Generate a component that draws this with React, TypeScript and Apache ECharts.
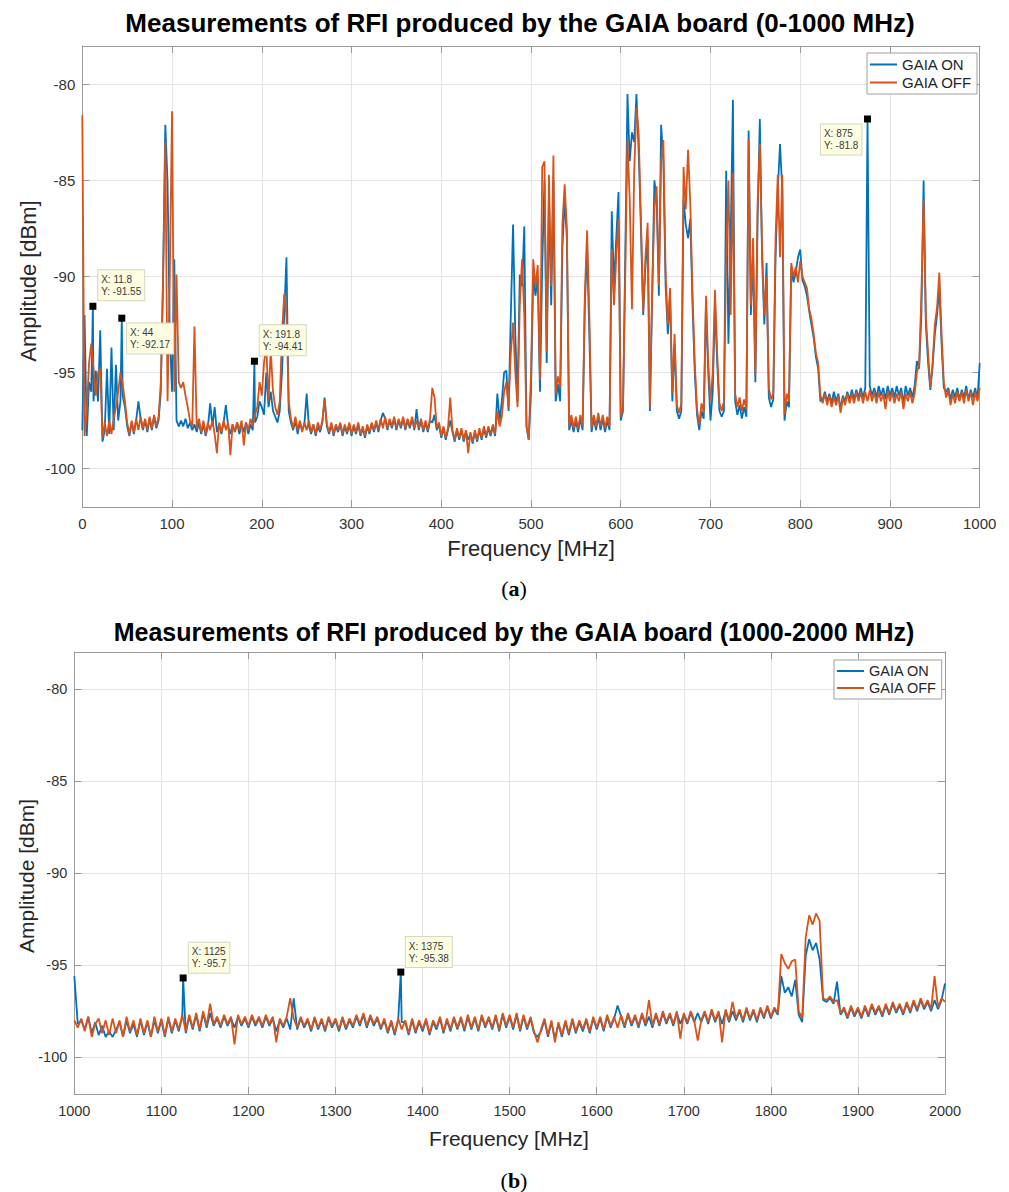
import React, { useEffect, useRef } from "react";
import * as echarts from "echarts";

// ---------- Panel (a): 0-1000 MHz, 2.5 MHz grid ----------
const freqStartA = 0;
const freqStepA = 2.5;

const gaiaOnA = [
  -98.0, -92.0, -98.3, -95.5, -96.0, -96.5, -94.9, -96.5, -92.8, -98.6,
  -98.0, -94.8, -98.2, -93.7, -98.0, -94.6, -97.5, -96.5, -96.2, -96.8,
  -97.8, -98.3, -97.6, -98.2, -97.5, -96.5, -97.4, -98.0, -97.5, -98.1,
  -97.4, -98.0, -97.3, -97.9, -97.5, -96.0, -90.0, -82.1, -85.1, -93.0,
  -96.0, -89.1, -97.5, -97.8, -97.5, -97.8, -97.4, -97.9, -97.6, -98.0,
  -97.7, -98.1, -97.6, -98.2, -97.7, -98.3, -97.8, -96.6, -97.8, -96.8,
  -98.1, -97.7, -98.2, -97.6, -96.7, -97.8, -98.2, -97.7, -98.1, -97.6,
  -98.2, -97.7, -98.1, -97.6, -98.2, -97.7, -98.0, -97.6, -97.3, -96.5,
  -96.8, -97.2, -95.0, -96.8, -96.0, -97.0, -97.3, -97.6, -97.0, -95.0,
  -92.0, -89.0, -97.0, -97.6, -98.0, -97.5, -98.2, -97.6, -98.0, -97.7,
  -96.1, -97.8, -98.2, -97.7, -98.3, -97.8, -98.1, -97.6, -96.3, -97.8,
  -98.2, -97.7, -98.3, -97.8, -98.1, -97.7, -98.3, -97.8, -98.2, -97.7,
  -98.3, -97.8, -98.2, -97.7, -98.3, -97.9, -98.4, -97.8, -98.2, -97.7,
  -98.1, -97.6, -98.1, -97.5, -97.1, -97.4, -98.0, -97.5, -97.9, -97.4,
  -98.0, -97.5, -97.9, -97.4, -98.0, -97.5, -97.9, -97.4, -98.0, -96.9,
  -98.0, -97.5, -98.1, -97.6, -98.1, -97.5, -97.6, -97.2, -98.0, -97.7,
  -98.4, -97.9, -98.5, -98.0, -97.5, -98.1, -98.6, -98.0, -98.5, -98.0,
  -98.6, -98.1, -98.5, -98.2, -98.7, -98.1, -98.6, -98.0, -98.5, -97.9,
  -98.4, -97.9, -98.3, -97.8, -98.3, -96.1, -97.5, -96.5, -95.0, -94.9,
  -97.0, -92.0, -87.3, -93.0, -96.5, -89.9, -90.5, -87.4, -97.8, -98.5,
  -96.0, -90.0, -91.0, -90.0, -96.0, -89.5, -85.0, -94.5, -86.0, -91.5,
  -85.0, -96.5, -95.6, -96.5, -88.5, -86.0, -88.0, -98.0, -97.5, -98.1,
  -97.5, -98.1, -97.4, -98.0, -91.5, -88.5, -93.0, -98.1, -97.4, -98.0,
  -97.3, -98.0, -97.4, -98.1, -97.5, -98.0, -86.6, -90.5, -88.0, -85.6,
  -97.5, -97.0, -89.0, -80.5, -84.0, -82.5, -83.0, -80.5, -83.5, -87.5,
  -92.0, -89.5, -88.0, -97.0, -91.0, -85.0, -86.0, -91.0, -82.1, -84.0,
  -90.5, -93.0, -91.0, -96.5, -93.5, -97.0, -97.4, -97.0, -86.0, -87.3,
  -88.0, -87.0, -91.5, -95.0, -97.2, -98.0, -97.0, -97.4, -91.5, -95.0,
  -97.5, -96.0, -91.5, -94.5, -97.0, -97.3, -97.0, -84.5, -93.5, -88.0,
  -80.8, -96.5, -97.2, -96.7, -97.4, -96.8, -97.3, -82.4, -92.0, -89.0,
  -95.5, -87.0, -81.8, -89.0, -92.5, -89.3, -96.3, -96.8, -96.4, -89.0,
  -85.5, -83.1, -85.5, -97.5, -96.5, -96.8, -89.5, -90.3, -89.8, -89.0,
  -88.6, -90.2, -90.5, -91.0, -91.8, -92.5, -93.2, -94.2, -94.8, -96.5,
  -96.4, -96.0, -96.5, -96.1, -96.6, -96.0, -96.5, -96.1, -96.9, -96.2,
  -96.5, -96.0, -96.4, -95.9, -96.4, -95.9, -96.3, -95.8, -96.3, -95.8,
  -96.0, -95.7, -96.2, -95.8, -96.3, -95.7, -96.2, -95.8, -96.4, -95.7,
  -96.2, -95.8, -96.3, -95.7, -96.2, -95.8, -96.6, -95.7, -96.2, -95.8,
  -96.3, -95.7, -94.4, -94.8, -92.0, -85.0, -92.5, -94.5, -95.9, -94.7,
  -93.0, -92.0, -90.5, -93.5, -95.8, -96.0, -95.8, -96.4, -95.9, -96.3,
  -95.8, -96.4, -95.9, -96.3, -95.7, -96.4, -95.9, -96.3, -95.8, -96.4,
  -94.5,
];

const gaiaOffA = [
  -81.6, -98.3, -97.0, -94.5, -93.5, -94.8, -96.2, -95.0, -94.8, -98.4,
  -97.6, -98.3, -97.5, -98.2, -97.4, -96.8, -96.0, -95.0, -95.6, -96.5,
  -97.6, -98.2, -97.5, -98.1, -97.4, -98.0, -97.3, -97.9, -97.4, -98.0,
  -97.3, -97.9, -97.2, -97.8, -97.3, -95.5, -90.3, -83.0, -96.5, -90.0,
  -81.4, -96.0, -89.9, -95.5, -95.8, -95.5, -96.2, -96.8, -97.5, -97.8,
  -92.6, -97.9, -97.4, -98.1, -97.5, -98.2, -97.6, -98.0, -97.5, -98.2,
  -99.2, -97.6, -98.1, -97.5, -98.0, -97.6, -99.3, -97.7, -98.1, -97.6,
  -98.0, -97.5, -98.8, -97.6, -98.0, -97.4, -97.8, -97.2, -96.8, -95.5,
  -96.2, -94.5, -93.6, -96.5, -93.8, -96.0, -96.8, -97.2, -96.5, -93.0,
  -90.9, -92.0, -96.5, -97.4, -97.9, -97.3, -98.0, -97.5, -98.1, -97.6,
  -98.0, -97.5, -98.1, -97.7, -98.2, -97.6, -98.0, -97.5, -96.4, -97.7,
  -98.1, -97.6, -98.2, -97.7, -98.0, -97.6, -98.2, -97.7, -98.1, -97.6,
  -98.2, -97.7, -98.1, -97.6, -98.2, -97.8, -98.3, -97.7, -98.1, -97.6,
  -98.0, -97.5, -98.0, -97.4, -97.9, -97.3, -97.9, -97.4, -97.8, -97.3,
  -97.9, -97.4, -97.8, -97.3, -97.9, -97.4, -97.8, -97.3, -97.9, -97.5,
  -97.9, -97.4, -98.0, -97.5, -98.0, -97.4, -95.8, -96.3, -97.9, -97.6,
  -98.3, -97.8, -98.4, -97.9, -96.3, -98.0, -98.5, -97.9, -98.4, -97.9,
  -98.5, -98.0, -99.2, -98.1, -98.6, -98.0, -98.5, -97.9, -98.4, -97.8,
  -98.3, -97.8, -98.2, -97.7, -98.2, -97.0, -97.8, -97.3, -96.0, -95.5,
  -96.8, -94.0, -92.4, -95.0, -96.8, -91.5, -89.1, -92.0, -97.8, -98.5,
  -95.0, -89.1, -90.5, -89.4, -95.4, -84.3, -84.0, -93.9, -84.7, -90.5,
  -83.7, -96.1, -95.2, -95.8, -87.3, -85.2, -87.5, -97.8, -97.2, -97.9,
  -97.3, -97.9, -97.2, -97.8, -90.9, -87.6, -92.0, -97.9, -97.2, -97.8,
  -97.1, -97.8, -97.2, -97.9, -97.3, -97.8, -88.6, -91.5, -89.0, -87.0,
  -97.3, -96.8, -90.0, -82.9, -86.0, -91.7, -84.5, -81.2, -82.6, -87.0,
  -91.8, -89.0, -87.2, -96.8, -90.9, -86.5, -85.3, -90.5, -84.0, -82.9,
  -89.8, -92.5, -90.6, -96.1, -93.0, -96.7, -97.1, -96.6, -84.3, -86.5,
  -83.4, -86.2, -90.9, -94.5, -96.9, -97.7, -96.6, -97.1, -91.0, -94.5,
  -96.5, -95.0, -90.7, -94.0, -96.6, -97.0, -96.5, -89.0, -85.0, -92.0,
  -84.6, -96.1, -96.8, -96.3, -97.0, -96.4, -96.9, -82.9, -91.5, -88.0,
  -95.1, -86.2, -83.1, -88.5, -92.0, -90.0, -95.8, -96.4, -96.1, -88.0,
  -84.7, -89.0, -84.7, -97.2, -96.1, -96.5, -89.3, -90.0, -89.5, -90.3,
  -89.2, -90.0, -90.3, -90.6, -91.7, -92.2, -93.0, -94.0, -94.5, -96.2,
  -96.6, -96.1, -96.7, -96.2, -96.8, -96.3, -96.7, -96.2, -97.1, -96.3,
  -96.7, -96.1, -96.6, -96.1, -96.6, -96.0, -96.5, -96.0, -96.6, -96.0,
  -96.5, -95.9, -96.5, -96.0, -96.6, -96.0, -96.5, -96.1, -96.9, -96.0,
  -96.5, -96.0, -96.6, -96.1, -96.5, -96.0, -96.9, -96.1, -96.5, -96.0,
  -96.6, -96.1, -95.0, -94.6, -91.0, -86.0, -92.1, -94.0, -95.8, -94.5,
  -92.5, -91.6, -89.8, -93.0, -95.5, -96.3, -95.9, -96.7, -96.1, -96.6,
  -96.0, -96.5, -96.0, -96.6, -95.9, -96.5, -96.0, -96.7, -96.0, -96.5,
  -95.8,
];

// data tips on the GAIA ON trace (X MHz, Y dBm)
const tipsA = [
  [11.8, -91.55],
  [44, -92.17],
  [191.8, -94.41],
  [875, -81.8],
];

// ---------- Panel (b): 1000-2000 MHz, 4 MHz grid ----------
const freqStartB = 1000;
const freqStepB = 4;

const gaiaOnB = [
  -95.6, -98.2, -98.0, -98.5, -97.8, -98.7, -98.1, -98.8, -98.3, -98.9,
  -98.6, -98.9, -98.5, -98.1, -98.9, -98.0, -98.7, -98.2, -98.9, -98.0,
  -98.8, -98.1, -98.9, -98.0, -98.7, -98.0, -98.9, -97.9, -98.7, -98.0,
  -98.6, -97.8, -98.7, -97.8, -98.5, -97.7, -98.6, -97.6, -98.4, -97.6,
  -98.3, -97.9, -98.4, -97.8, -98.3, -97.9, -98.4, -97.8, -98.3, -97.9,
  -98.4, -97.8, -98.3, -97.9, -98.4, -97.8, -98.3, -97.9, -98.6, -98.0,
  -98.4, -97.9, -98.5, -96.8, -98.5, -97.9, -98.4, -98.0, -98.6, -97.9,
  -98.5, -98.0, -98.6, -97.9, -98.4, -98.0, -98.6, -97.9, -98.5, -98.0,
  -98.4, -97.8, -98.3, -97.7, -98.4, -97.8, -98.3, -97.9, -98.5, -98.0,
  -98.7, -98.1, -98.8, -98.0, -98.1, -98.1, -98.8, -98.0, -98.7, -98.1,
  -98.6, -98.0, -98.8, -98.1, -98.5, -97.9, -98.7, -98.0, -98.6, -97.9,
  -98.5, -97.9, -98.6, -97.8, -98.5, -97.9, -98.6, -97.8, -98.4, -97.9,
  -98.5, -97.8, -98.6, -97.7, -98.4, -97.8, -98.5, -97.7, -98.6, -97.8,
  -98.5, -97.9, -98.7, -98.9, -98.6, -98.0, -98.9, -98.1, -99.0, -98.2,
  -98.9, -98.1, -98.8, -98.0, -98.7, -98.1, -98.6, -98.0, -98.7, -97.9,
  -98.5, -97.9, -98.6, -97.8, -98.4, -97.9, -97.2, -97.8, -98.4, -97.7,
  -98.3, -97.8, -98.4, -97.7, -98.3, -97.8, -98.4, -97.7, -98.3, -97.6,
  -98.2, -97.7, -98.3, -97.6, -98.2, -97.7, -98.2, -97.6, -98.1, -97.6,
  -98.1, -97.6, -98.2, -97.5, -98.1, -97.6, -98.2, -97.5, -98.1, -97.5,
  -98.0, -97.5, -98.1, -97.4, -98.0, -97.5, -98.1, -97.4, -97.9, -97.3,
  -97.9, -97.4, -97.7, -95.6, -96.5, -96.2, -96.7, -95.8, -97.7, -98.1,
  -94.5, -93.6, -94.2, -93.8, -94.7, -96.9, -97.0, -96.8, -97.1, -95.9,
  -97.7, -97.4, -97.9, -97.3, -97.8, -97.4, -97.9, -97.3, -97.8, -97.2,
  -97.7, -97.3, -97.8, -97.2, -97.7, -97.1, -97.6, -97.2, -97.7, -97.1,
  -97.6, -97.0, -97.5, -96.9, -97.4, -97.0, -97.5, -96.9, -97.4, -96.9,
  -96.0,
];

const gaiaOffB = [
  -98.0, -98.4, -97.9, -98.6, -97.8, -98.9, -98.2, -97.9, -98.7, -98.0,
  -98.8, -97.9, -98.7, -98.0, -98.9, -97.8, -98.6, -98.0, -98.8, -97.9,
  -98.7, -98.0, -98.9, -97.8, -98.6, -97.9, -98.8, -97.8, -98.6, -97.9,
  -98.5, -97.7, -98.6, -97.7, -98.4, -97.6, -98.5, -97.5, -98.3, -97.1,
  -98.2, -97.8, -98.3, -97.7, -98.2, -97.8, -99.3, -97.7, -98.2, -97.8,
  -98.3, -97.7, -98.2, -97.8, -98.3, -97.7, -98.2, -97.8, -99.2, -97.9,
  -98.3, -97.8, -96.8, -97.9, -98.4, -97.8, -98.3, -97.9, -98.5, -97.8,
  -98.4, -97.9, -98.5, -97.8, -98.3, -97.9, -98.5, -97.8, -98.4, -97.9,
  -98.3, -97.7, -98.2, -97.6, -98.3, -97.7, -98.2, -97.8, -98.4, -97.9,
  -98.6, -98.0, -98.7, -97.9, -98.5, -98.0, -98.7, -97.9, -98.6, -98.0,
  -98.5, -97.9, -98.7, -98.0, -98.4, -97.8, -98.6, -97.9, -98.5, -97.8,
  -98.4, -97.8, -98.5, -97.7, -98.4, -97.8, -98.5, -97.7, -98.3, -97.8,
  -98.4, -97.7, -98.5, -97.6, -98.3, -97.7, -98.4, -97.6, -98.5, -97.7,
  -98.4, -97.8, -98.6, -99.2, -98.5, -97.9, -98.8, -98.0, -99.2, -98.1,
  -98.8, -98.0, -98.7, -97.9, -98.6, -98.0, -98.5, -97.9, -98.6, -97.8,
  -98.4, -97.8, -98.5, -97.7, -98.3, -97.8, -98.4, -97.7, -98.3, -97.6,
  -98.2, -97.7, -98.3, -97.6, -98.2, -96.9, -98.3, -97.6, -98.2, -97.5,
  -98.1, -97.6, -98.2, -97.5, -99.0, -97.6, -98.1, -97.5, -98.0, -99.1,
  -98.0, -97.5, -98.1, -97.4, -98.0, -97.5, -99.2, -97.4, -98.0, -97.0,
  -97.9, -97.4, -98.0, -97.3, -97.9, -97.4, -98.0, -97.3, -97.8, -97.2,
  -97.8, -97.3, -97.6, -94.4, -94.9, -95.2, -94.8, -94.7, -97.5, -97.9,
  -93.5, -92.3, -92.8, -92.2, -92.6, -96.8, -96.9, -96.7, -97.0, -96.9,
  -97.6, -97.3, -97.8, -97.2, -97.7, -97.3, -97.8, -97.2, -97.7, -97.1,
  -97.6, -97.2, -97.7, -97.1, -97.6, -97.0, -97.5, -97.1, -97.6, -97.0,
  -97.5, -96.9, -97.4, -96.8, -97.3, -96.9, -97.4, -95.6, -97.3, -96.8,
  -97.0,
];

const tipsB = [
  [1125, -95.7],
  [1375, -95.38],
];

const seriesNames = ["GAIA ON", "GAIA OFF"];
const titleA = "Measurements of RFI produced by the GAIA board (0-1000 MHz)";
const titleB = "Measurements of RFI produced by the GAIA board (1000-2000 MHz)";
const xNameText = "Frequency [MHz]";
const yNameText = "Amplitude [dBm]";

// ---------- styling ----------
const BLUE = "#0072BD";
const ORANGE = "#D95319";
const AXC = "#9a9a9a";
const GRIDC = "#e4e4e4";
const LABC = "#333333";
const FONT = "'Liberation Sans', Arial, Helvetica, sans-serif";

function buildPoints(start: number, step: number, vals: number[], extra: number[][]) {
  const pts: number[][] = vals.map((v, i) => [Math.round((start + step * i) * 100) / 100, v]);
  extra.forEach(([x, y]) => {
    const idx = pts.findIndex((p) => p[0] >= x);
    if (idx < 0) pts.push([x, y]);
    else if (pts[idx][0] === x) pts[idx] = [x, y];
    else pts.splice(idx, 0, [x, y]);
  });
  return pts;
}

function tipLabel(x: number, y: number, pos: number[]) {
  return {
    coord: [x, y],
    value: y,
    label: {
      show: true,
      position: pos,
      formatter: `X: ${x}\nY: ${y}`,
    },
  };
}

const tipLabelBase = {
  show: true,
  fontSize: 10,
  lineHeight: 12,
  fontFamily: FONT,
  color: "#3a3a3a",
  backgroundColor: "#fdfde2",
  borderColor: "#d6d6c2",
  borderWidth: 1,
  padding: [3, 3, 3, 3],
  align: "left",
  verticalAlign: "top",
};

// label placement (pixels, relative to the marker box) for each data tip
const tipPosA = [
  [8.8, -32.5],
  [8.8, 8.8],
  [8.8, -32.5],
  [-43.1, 9.1],
];
const tipPosB = [
  [9.2, -31.8],
  [8.5, -31.5],
];

function makeAxes(gridIndex: number, xmin: number, xmax: number, fs: number) {
  const lineStyle = { color: AXC, width: 1 };
  const x = [
    {
      gridIndex,
      type: "value",
      min: xmin,
      max: xmax,
      interval: 100,
      position: "bottom",
      axisLine: { show: true, onZero: false, lineStyle },
      axisTick: { show: true, inside: true, length: 7, lineStyle },
      axisLabel: {
        color: LABC,
        fontSize: fs,
        fontFamily: FONT,
        margin: 9,
        formatter: (v: number) => String(v),
      },
      splitLine: { show: true, lineStyle: { color: GRIDC, width: 1 } },
    },
    {
      gridIndex,
      type: "value",
      min: xmin,
      max: xmax,
      interval: 100,
      position: "top",
      axisLine: { show: true, onZero: false, lineStyle },
      axisTick: { show: true, inside: true, length: 7, lineStyle },
      axisLabel: { show: false },
      splitLine: { show: false },
    },
  ];
  const yCommon = {
    gridIndex,
    type: "value",
    min: -102,
    max: -78,
    splitNumber: 5,
    minInterval: 5,
    maxInterval: 5,
  };
  const y = [
    {
      ...yCommon,
      position: "left",
      axisLine: { show: true, onZero: false, lineStyle },
      axisTick: { show: true, inside: true, length: 7, lineStyle },
      axisLabel: {
        color: LABC,
        fontSize: fs,
        fontFamily: FONT,
        margin: 7,
        formatter: (v: number) => (Math.round(v) % 5 === 0 ? String(v) : ""),
      },
      splitLine: { show: true, lineStyle: { color: GRIDC, width: 1 } },
    },
    {
      ...yCommon,
      position: "right",
      axisLine: { show: true, onZero: false, lineStyle },
      axisTick: { show: true, inside: true, length: 7, lineStyle },
      axisLabel: { show: false },
      splitLine: { show: false },
    },
  ];
  return { x, y };
}

function lineSeries(name: string, color: string, data: number[][], axisBase: number, extra: any = {}) {
  return {
    type: "line",
    name,
    xAxisIndex: axisBase,
    yAxisIndex: axisBase,
    data,
    symbol: "none",
    showSymbol: false,
    silent: true,
    animation: false,
    color,
    lineStyle: { color, width: 1.8 },
    emphasis: { disabled: true },
    ...extra,
  };
}

function legendAt(left: number, top: number, fs: number, lh: number) {
  return {
    show: true,
    orient: "vertical",
    left,
    top,
    data: seriesNames,
    icon: "rect",
    itemWidth: 27,
    itemHeight: 2,
    itemGap: 1,
    padding: [3, 5, 3, 3],
    backgroundColor: "#ffffff",
    borderColor: "#9f9f9f",
    borderWidth: 1,
    borderRadius: 0,
    selectedMode: false,
    textStyle: { fontSize: fs, color: "#262626", fontFamily: FONT, lineHeight: lh },
  };
}

export default function App() {
  const ref = useRef<HTMLDivElement>(null);

  useEffect(() => {
    document.body.style.margin = "0";
    if (!ref.current) return;
    const chart = echarts.init(ref.current, undefined, { renderer: "svg" });

    const onA = buildPoints(freqStartA, freqStepA, gaiaOnA, tipsA);
    const offA = buildPoints(freqStartA, freqStepA, gaiaOffA, []);
    const onB = buildPoints(freqStartB, freqStepB, gaiaOnB, tipsB);
    const offB = buildPoints(freqStartB, freqStepB, gaiaOffB, []);

    const axA = makeAxes(0, 0, 1000, 15);
    const axB = makeAxes(1, 1000, 2000, 14.5);

    const markA = {
      symbol: "rect",
      symbolSize: 7,
      itemStyle: { color: "#000" },
      label: tipLabelBase,
      z: 10,
      silent: true,
      data: tipsA.map(([x, y], i) => tipLabel(x, y, tipPosA[i])),
    };
    const markB = {
      symbol: "rect",
      symbolSize: 7,
      itemStyle: { color: "#000" },
      label: tipLabelBase,
      z: 10,
      silent: true,
      data: tipsB.map(([x, y], i) => tipLabel(x, y, tipPosB[i])),
    };

    const textEl = (x: number, y: number, text: string, font: string, fill: string, rotation = 0) => ({
      type: "text",
      x,
      y,
      rotation,
      silent: true,
      style: { text, font, fill, textAlign: "center", textVerticalAlign: "middle" },
    });

    const subLabel = (x: number, y: number, letter: string) => ({
      type: "text",
      x,
      y,
      silent: true,
      style: {
        text: `{p|(}{b|${letter}}{p|)}`,
        textAlign: "center",
        textVerticalAlign: "middle",
        rich: {
          p: { fontFamily: "'Liberation Serif', 'DejaVu Serif', serif", fontSize: 22, fill: "#000" },
          b: { fontFamily: "'Liberation Serif', 'DejaVu Serif', serif", fontSize: 22, fontWeight: "bold", fill: "#000" },
        },
      },
    });

    const option: any = {
      animation: false,
      backgroundColor: "#ffffff",
      grid: [
        { left: 82.3, top: 46, width: 897.4, height: 461, containLabel: false },
        { left: 74.3, top: 652, width: 870.7, height: 442, containLabel: false },
      ],
      xAxis: [...axA.x, ...axB.x],
      yAxis: [...axA.y, ...axB.y],
      legend: [legendAt(867, 53, 15, 17), legendAt(834, 660, 14.5, 16)],
      series: [
        lineSeries(seriesNames[0], BLUE, onA, 0, { markPoint: markA }),
        lineSeries(seriesNames[1], ORANGE, offA, 0),
        lineSeries(seriesNames[0], BLUE, onB, 2, { markPoint: markB }),
        lineSeries(seriesNames[1], ORANGE, offB, 2),
      ],
      graphic: [
        textEl(520, 23, titleA, `bold 26px ${FONT}`, "#000"),
        textEl(514, 632, titleB, `bold 25px ${FONT}`, "#000"),
        textEl(28, 281, yNameText, `22px ${FONT}`, "#262626", Math.PI / 2),
        textEl(26, 876, yNameText, `21px ${FONT}`, "#262626", Math.PI / 2),
        textEl(531, 548, xNameText, `22px ${FONT}`, "#262626"),
        textEl(509, 1138, xNameText, `21px ${FONT}`, "#262626"),
        subLabel(514, 588, "a"),
        subLabel(514, 1180, "b"),
      ],
    };

    chart.setOption(option);
    return () => {
      chart.dispose();
    };
  }, []);

  return <div ref={ref} style={{ width: 1009, height: 1192 }} />;
}
